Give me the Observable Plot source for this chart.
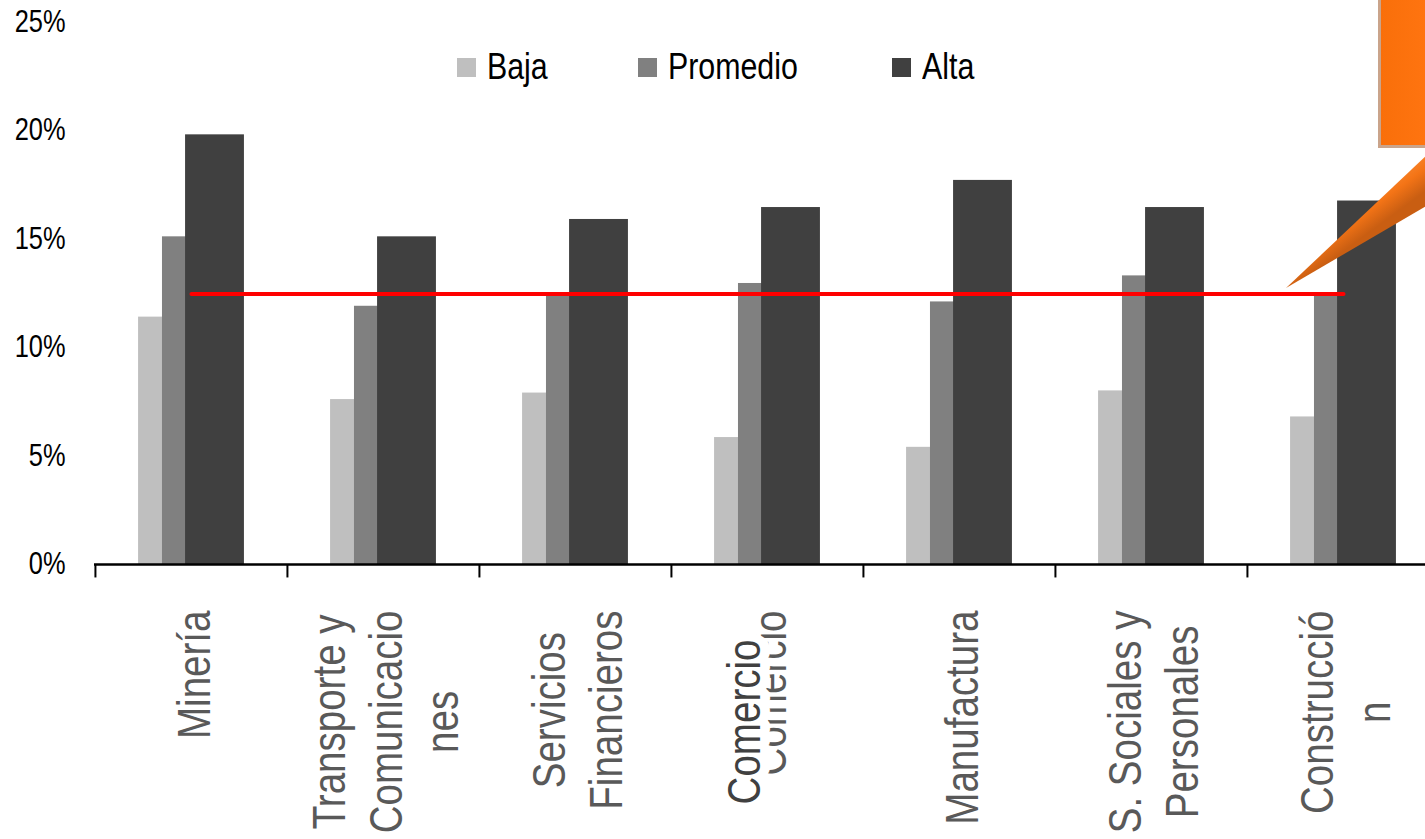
<!DOCTYPE html>
<html>
<head>
<meta charset="utf-8">
<script src="https://cdn.jsdelivr.net/npm/d3@7"></script>
<script src="https://cdn.jsdelivr.net/npm/@observablehq/plot@0.6"></script>
<style>
  html, body { margin: 0; padding: 0; background: #fff; overflow: hidden; width: 1425px; height: 839px; }
  #wrap { position: relative; width: 1425px; height: 839px; overflow: hidden; background: #fff; }
  #chart { position: absolute; left: 0; top: 0; }
  .item { position: absolute; top: 46px; height: 42px; display: flex; align-items: center;
          font-family: "Liberation Sans", Arial, sans-serif;
          font-size: 37px; color: #000; white-space: nowrap; }
  .item .t { display: inline-block; transform: scaleX(0.82); transform-origin: left center; }
  .sw { width: 19px; height: 19px; margin-right: 11px; flex: none; }
  #callout { position: absolute; left: 0; top: 0; pointer-events: none; }
</style>
</head>
<body>
<div id="wrap"><div id="chart"></div></div>
<script>
// ---- data ----
const categories = ["Minería", "Transporte y Comunicaciones", "Servicios Financieros", "Comercio", "Manufactura", "S. Sociales y Personales", "Construcción"];
const categoryLabels = ["Minería", "Transporte y\nComunicacio\nnes", "Servicios\nFinancieros", "Comercio", "Manufactura", "S. Sociales y\nPersonales", "Construcció\nn"];
const series = ["Baja", "Promedio", "Alta"];
const baja     = [11.4, 7.6, 7.9, 5.85, 5.4, 8.0, 6.8];
const promedio = [15.1, 11.9, 12.4, 12.95, 12.1, 13.3, 12.4];
const alta     = [19.8, 15.1, 15.9, 16.45, 17.7, 16.45, 16.75];
const averageLine = 12.46;
const seriesColors = ["#BFBFBF", "#808080", "#404040"];
const yTicks = [0, 5, 10, 15, 20, 25];

const FONT = '"Liberation Sans", Arial, sans-serif';
const NARROW = 0.82; // emulate a narrow face

const rows = [];
categories.forEach((c, i) => {
  rows.push({cat: c, serie: "Baja", value: baja[i]});
  rows.push({cat: c, serie: "Promedio", value: promedio[i]});
  rows.push({cat: c, serie: "Alta", value: alta[i]});
});

// label sizing
const LABEL_SIZE = 47;
const ctx = document.createElement("canvas").getContext("2d");
ctx.font = `${LABEL_SIZE}px ${FONT}`;
const maxLen = s => NARROW * Math.max(...s.split("\n").map(l => ctx.measureText(l).width));

const W = 1445, H = 839;
const mL = 94, mR = 6, mT = 21.5, mB = 275;
const band = (W - mL - mR) / categories.length;
const barW = 59;
const inset = (band - barW) / 2;
const offsets = {Baja: -23.5, Promedio: 0.4, Alta: 23.5};

const marks = [];
// bars
series.forEach(s => {
  marks.push(Plot.barY(rows.filter(r => r.serie === s), {
    x: "cat", y: "value", fill: "serie",
    insetLeft: inset, insetRight: inset, dx: offsets[s]
  }));
});
// axis line & boundary ticks
marks.push(Plot.ruleY([0], {stroke: "#000", strokeWidth: 2.5}));
marks.push(Plot.ruleX(categories, {x: d => d, y1: 0, y2: -0.62, dx: -band / 2, stroke: "#000", strokeWidth: 2}));
marks.push(Plot.ruleX(categories.slice(-1), {x: d => d, y1: 0, y2: -0.62, dx: band / 2, stroke: "#000", strokeWidth: 2}));
// average red line
marks.push(Plot.lineY(categories, {x: d => d, y: () => averageLine, stroke: "#FF0000", strokeWidth: 4, strokeLinecap: "round"}));
// y axis
marks.push(Plot.axisY(yTicks, {tickSize: 0, tickPadding: 29, tickFormat: d => d + "%", fontSize: 31, color: "#000", fontFamily: FONT, label: null}));
// x labels
categories.forEach((c, i) => {
  const lbl = categoryLabels[i];
  marks.push(Plot.text([c], {
    x: d => d, text: () => lbl, frameAnchor: "bottom", rotate: -90,
    textAnchor: "middle", lineAnchor: "middle", lineHeight: 1.2,
    fontSize: LABEL_SIZE, fill: "#595959", fontFamily: FONT,
    dy: 46 + maxLen(lbl) / 2
  }));
});
// overlapping duplicate "Comercio" box seen in the original
marks.push(Plot.text(["Comercio"], {
  x: d => d, text: d => d, frameAnchor: "bottom", rotate: -90,
  textAnchor: "middle", lineAnchor: "middle",
  fontSize: LABEL_SIZE, fill: "#404040", stroke: "#fff", strokeWidth: 20, fontFamily: FONT,
  dx: -23, dy: 75 + maxLen("Comercio") / 2
}));

const chart = Plot.plot({
  width: W, height: H,
  marginLeft: mL, marginRight: mR, marginTop: mT, marginBottom: mB,
  style: {fontFamily: FONT, background: "#fff", overflow: "visible", maxWidth: "none"},
  x: {domain: categories, padding: 0, axis: null},
  y: {domain: [0, 25], axis: null},
  color: {domain: series, range: seriesColors},
  marks
});
chart.style.maxWidth = "none";
// condense every text horizontally (narrow face emulation)
chart.querySelectorAll("text").forEach(t => {
  const tr = t.getAttribute("transform") || "";
  const xa = t.getAttribute("x"), ya = t.getAttribute("y");
  let tx = 0, ty = 0;
  if (xa !== null && !isNaN(+xa)) { tx = +xa; t.removeAttribute("x"); }
  if (ya !== null && !isNaN(+ya)) { ty = +ya; t.removeAttribute("y"); }
  t.setAttribute("transform", `${tr} translate(${tx},${ty}) scale(${NARROW},1)`);
});
document.getElementById("chart").appendChild(chart);

// legend
const wrap = document.getElementById("wrap");
const legendLeft = [457, 638, 892];
series.forEach((s, i) => {
  const it = document.createElement("div");
  it.className = "item";
  it.style.left = legendLeft[i] + "px";
  it.innerHTML = `<span class="sw" style="background:${chart.scale("color").apply(s)}"></span><span class="t">${s}</span>`;
  wrap.appendChild(it);
});

// orange callout (decoration)
const call = document.createElement("div");
call.id = "callout";
call.innerHTML = `
<svg width="1425" height="839" xmlns="http://www.w3.org/2000/svg">
  <defs>
    <linearGradient id="gw" gradientUnits="userSpaceOnUse" x1="1330" y1="215" x2="1352" y2="245">
      <stop offset="0" stop-color="#FA8A33"/>
      <stop offset="0.5" stop-color="#F47416"/>
      <stop offset="1" stop-color="#C95E12"/>
    </linearGradient>
    <linearGradient id="gr" gradientUnits="userSpaceOnUse" x1="1381" y1="0" x2="1425" y2="0">
      <stop offset="0" stop-color="#F96F0A"/>
      <stop offset="1" stop-color="#FF7410"/>
    </linearGradient>
  </defs>
  <rect x="1378" y="-10" width="70" height="158" fill="#9E5A2C" opacity="0.55"/>
  <rect x="1381" y="-10" width="66" height="155" fill="url(#gr)"/>
  <polygon points="1286,288 1445,138 1445,195" fill="url(#gw)"/>
</svg>`;
wrap.appendChild(call);
</script>
</body>
</html>
